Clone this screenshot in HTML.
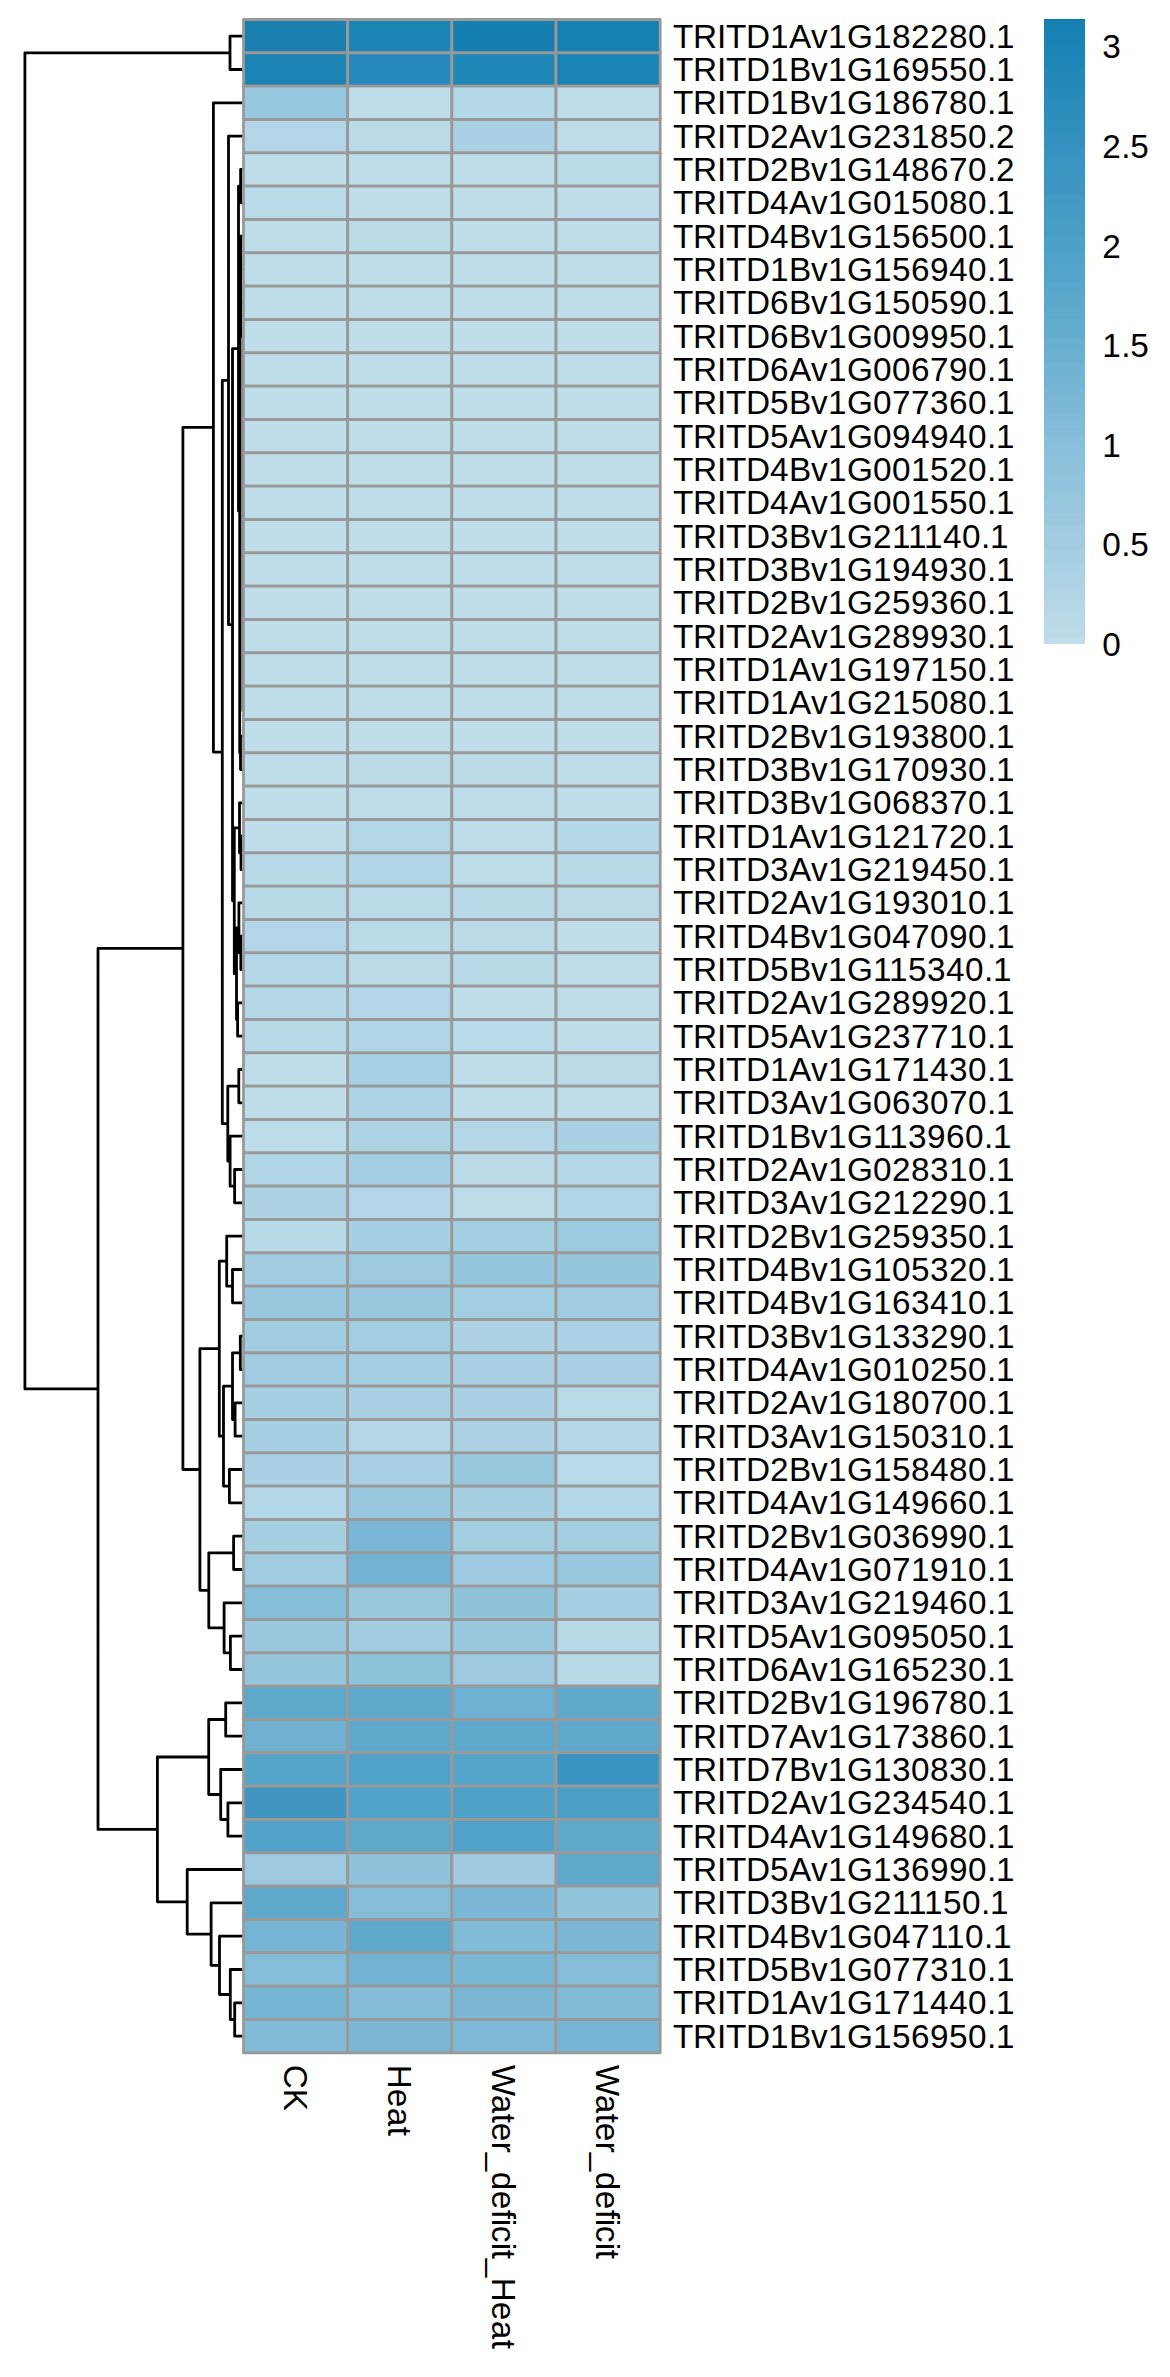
<!DOCTYPE html><html><head><meta charset="utf-8"><style>html,body{margin:0;padding:0;background:#fff;width:1170px;height:2377px;overflow:hidden}svg{display:block}text{font-family:"Liberation Sans",sans-serif;font-size:33.33px;fill:#000}</style></head><body>
<svg width="1170" height="2377" viewBox="0 0 1170 2377">
<rect width="1170" height="2377" fill="#fff"/>
<path d="M230.00 52.83L24.90 52.83L24.90 1388.93L98.00 1388.93M242.00 36.17L230.00 36.17L230.00 69.50L242.00 69.50M182.90 948.47L98.00 948.47L98.00 1829.39L157.40 1829.39M213.40 427.44L182.90 427.44L182.90 1469.50L199.90 1469.50M242.00 102.83L213.40 102.83L213.40 752.04L222.30 752.04M228.50 380.42L222.30 380.42L222.30 1123.67L227.80 1123.67M242.00 136.17L228.50 136.17L228.50 624.67L232.50 624.67M238.50 348.59L232.50 348.59L232.50 900.75L234.30 900.75M240.60 186.17L238.50 186.17L238.50 511.02L239.70 511.02M242.00 169.50L240.60 169.50L240.60 202.83L242.00 202.83M240.60 269.20L239.70 269.20L239.70 752.83L240.50 752.83M242.00 236.17L240.60 236.17L240.60 336.17L242.00 336.17M242.00 736.17L240.50 736.17L240.50 769.50L242.00 769.50M239.50 827.83L234.30 827.83L234.30 973.67L236.50 973.67M242.00 802.83L239.50 802.83L239.50 852.83L241.00 852.83M242.00 836.17L241.00 836.17L241.00 869.50L242.00 869.50M238.90 927.83L236.50 927.83L236.50 1019.50L237.60 1019.50M242.00 902.83L238.90 902.83L238.90 952.83L240.80 952.83M242.00 936.17L240.80 936.17L240.80 969.50L242.00 969.50M242.00 1002.83L237.60 1002.83L237.60 1036.17L242.00 1036.17M238.80 1086.17L227.80 1086.17L227.80 1161.17L230.10 1161.17M242.00 1069.50L238.80 1069.50L238.80 1102.83L242.00 1102.83M242.00 1136.17L230.10 1136.17L230.10 1186.17L234.60 1186.17M242.00 1169.50L234.60 1169.50L234.60 1202.83L242.00 1202.83M219.30 1348.67L199.90 1348.67L199.90 1590.33L208.80 1590.33M226.70 1261.17L219.30 1261.17L219.30 1436.17L223.50 1436.17M242.00 1236.17L226.70 1236.17L226.70 1286.17L232.50 1286.17M242.00 1269.50L232.50 1269.50L232.50 1302.83L242.00 1302.83M232.50 1386.17L223.50 1386.17L223.50 1486.17L229.40 1486.17M240.30 1352.83L232.50 1352.83L232.50 1419.50L235.10 1419.50M242.00 1336.17L240.30 1336.17L240.30 1369.50L242.00 1369.50M242.00 1402.83L235.10 1402.83L235.10 1436.17L242.00 1436.17M242.00 1469.50L229.40 1469.50L229.40 1502.83L242.00 1502.83M233.60 1552.83L208.80 1552.83L208.80 1627.83L224.10 1627.83M242.00 1536.17L233.60 1536.17L233.60 1569.50L242.00 1569.50M242.00 1602.83L224.10 1602.83L224.10 1652.83L230.40 1652.83M242.00 1636.17L230.40 1636.17L230.40 1669.50L242.00 1669.50M208.70 1757.00L157.40 1757.00L157.40 1901.79L187.20 1901.79M225.70 1719.50L208.70 1719.50L208.70 1794.50L220.70 1794.50M242.00 1702.83L225.70 1702.83L225.70 1736.16L242.00 1736.16M242.00 1769.50L220.70 1769.50L220.70 1819.50L227.90 1819.50M242.00 1802.83L227.90 1802.83L227.90 1836.16L242.00 1836.16M242.00 1869.50L187.20 1869.50L187.20 1934.08L211.10 1934.08M242.00 1902.83L211.10 1902.83L211.10 1965.33L219.50 1965.33M242.00 1936.16L219.50 1936.16L219.50 1994.50L230.30 1994.50M242.00 1969.50L230.30 1969.50L230.30 2019.50L234.70 2019.50M242.00 2002.83L234.70 2002.83L234.70 2036.16L242.00 2036.16M240.60 269.50L242.00 269.50M240.60 302.83L242.00 302.83M243.00 336.17L243.00 710.83" fill="none" stroke="#000" stroke-width="2.8" stroke-linejoin="round" stroke-linecap="round"/>
<g stroke="#999" stroke-width="2.8" stroke-linejoin="round"><rect x="243.50" y="19.50" width="104.175" height="33.333" fill="#1A80B0"/><rect x="347.68" y="19.50" width="104.175" height="33.333" fill="#1A84B4"/><rect x="451.85" y="19.50" width="104.175" height="33.333" fill="#157FB1"/><rect x="556.02" y="19.50" width="104.175" height="33.333" fill="#1580B2"/><rect x="243.50" y="52.83" width="104.175" height="33.333" fill="#1B84B5"/><rect x="347.68" y="52.83" width="104.175" height="33.333" fill="#2789BB"/><rect x="451.85" y="52.83" width="104.175" height="33.333" fill="#1E87B7"/><rect x="556.02" y="52.83" width="104.175" height="33.333" fill="#1983B5"/><rect x="243.50" y="86.17" width="104.175" height="33.333" fill="#97C8DF"/><rect x="347.68" y="86.17" width="104.175" height="33.333" fill="#C0DDEA"/><rect x="451.85" y="86.17" width="104.175" height="33.333" fill="#B5D8E8"/><rect x="556.02" y="86.17" width="104.175" height="33.333" fill="#BEDCE9"/><rect x="243.50" y="119.50" width="104.175" height="33.333" fill="#B2D6E7"/><rect x="347.68" y="119.50" width="104.175" height="33.333" fill="#BCDBE9"/><rect x="451.85" y="119.50" width="104.175" height="33.333" fill="#A9D1E3"/><rect x="556.02" y="119.50" width="104.175" height="33.333" fill="#BEDCE9"/><rect x="243.50" y="152.83" width="104.175" height="33.333" fill="#C0DDEA"/><rect x="347.68" y="152.83" width="104.175" height="33.333" fill="#BFDDEA"/><rect x="451.85" y="152.83" width="104.175" height="33.333" fill="#C0DEEA"/><rect x="556.02" y="152.83" width="104.175" height="33.333" fill="#BADBE8"/><rect x="243.50" y="186.17" width="104.175" height="33.333" fill="#B8DAE9"/><rect x="347.68" y="186.17" width="104.175" height="33.333" fill="#C0DDEA"/><rect x="451.85" y="186.17" width="104.175" height="33.333" fill="#C0DDEA"/><rect x="556.02" y="186.17" width="104.175" height="33.333" fill="#BFDDEA"/><rect x="243.50" y="219.50" width="104.175" height="33.333" fill="#C0DEEA"/><rect x="347.68" y="219.50" width="104.175" height="33.333" fill="#BCDBE9"/><rect x="451.85" y="219.50" width="104.175" height="33.333" fill="#C0DEEA"/><rect x="556.02" y="219.50" width="104.175" height="33.333" fill="#BFDDEA"/><rect x="243.50" y="252.83" width="104.175" height="33.333" fill="#C0DDEA"/><rect x="347.68" y="252.83" width="104.175" height="33.333" fill="#C0DDEA"/><rect x="451.85" y="252.83" width="104.175" height="33.333" fill="#C0DDEA"/><rect x="556.02" y="252.83" width="104.175" height="33.333" fill="#C0DDEA"/><rect x="243.50" y="286.17" width="104.175" height="33.333" fill="#C0DDEA"/><rect x="347.68" y="286.17" width="104.175" height="33.333" fill="#C0DDEA"/><rect x="451.85" y="286.17" width="104.175" height="33.333" fill="#C0DDEA"/><rect x="556.02" y="286.17" width="104.175" height="33.333" fill="#C0DDEA"/><rect x="243.50" y="319.50" width="104.175" height="33.333" fill="#C0DDEA"/><rect x="347.68" y="319.50" width="104.175" height="33.333" fill="#C0DDEA"/><rect x="451.85" y="319.50" width="104.175" height="33.333" fill="#C0DDEA"/><rect x="556.02" y="319.50" width="104.175" height="33.333" fill="#C0DDEA"/><rect x="243.50" y="352.83" width="104.175" height="33.333" fill="#C0DDEA"/><rect x="347.68" y="352.83" width="104.175" height="33.333" fill="#C0DDEA"/><rect x="451.85" y="352.83" width="104.175" height="33.333" fill="#C0DDEA"/><rect x="556.02" y="352.83" width="104.175" height="33.333" fill="#C0DDEA"/><rect x="243.50" y="386.17" width="104.175" height="33.333" fill="#C0DDEA"/><rect x="347.68" y="386.17" width="104.175" height="33.333" fill="#C0DDEA"/><rect x="451.85" y="386.17" width="104.175" height="33.333" fill="#C0DDEA"/><rect x="556.02" y="386.17" width="104.175" height="33.333" fill="#C0DDEA"/><rect x="243.50" y="419.50" width="104.175" height="33.333" fill="#C0DDEA"/><rect x="347.68" y="419.50" width="104.175" height="33.333" fill="#C0DDEA"/><rect x="451.85" y="419.50" width="104.175" height="33.333" fill="#C0DDEA"/><rect x="556.02" y="419.50" width="104.175" height="33.333" fill="#C0DDEA"/><rect x="243.50" y="452.83" width="104.175" height="33.333" fill="#C0DDEA"/><rect x="347.68" y="452.83" width="104.175" height="33.333" fill="#C0DDEA"/><rect x="451.85" y="452.83" width="104.175" height="33.333" fill="#C0DDEA"/><rect x="556.02" y="452.83" width="104.175" height="33.333" fill="#C0DDEA"/><rect x="243.50" y="486.17" width="104.175" height="33.333" fill="#C0DDEA"/><rect x="347.68" y="486.17" width="104.175" height="33.333" fill="#C0DDEA"/><rect x="451.85" y="486.17" width="104.175" height="33.333" fill="#C0DDEA"/><rect x="556.02" y="486.17" width="104.175" height="33.333" fill="#C0DDEA"/><rect x="243.50" y="519.50" width="104.175" height="33.333" fill="#C0DDEA"/><rect x="347.68" y="519.50" width="104.175" height="33.333" fill="#C0DDEA"/><rect x="451.85" y="519.50" width="104.175" height="33.333" fill="#C0DDEA"/><rect x="556.02" y="519.50" width="104.175" height="33.333" fill="#C0DDEA"/><rect x="243.50" y="552.83" width="104.175" height="33.333" fill="#C0DDEA"/><rect x="347.68" y="552.83" width="104.175" height="33.333" fill="#C0DDEA"/><rect x="451.85" y="552.83" width="104.175" height="33.333" fill="#C0DDEA"/><rect x="556.02" y="552.83" width="104.175" height="33.333" fill="#C0DDEA"/><rect x="243.50" y="586.17" width="104.175" height="33.333" fill="#C0DDEA"/><rect x="347.68" y="586.17" width="104.175" height="33.333" fill="#C0DDEA"/><rect x="451.85" y="586.17" width="104.175" height="33.333" fill="#C0DDEA"/><rect x="556.02" y="586.17" width="104.175" height="33.333" fill="#C0DDEA"/><rect x="243.50" y="619.50" width="104.175" height="33.333" fill="#C0DDEA"/><rect x="347.68" y="619.50" width="104.175" height="33.333" fill="#C0DDEA"/><rect x="451.85" y="619.50" width="104.175" height="33.333" fill="#C0DDEA"/><rect x="556.02" y="619.50" width="104.175" height="33.333" fill="#C0DDEA"/><rect x="243.50" y="652.83" width="104.175" height="33.333" fill="#C0DDEA"/><rect x="347.68" y="652.83" width="104.175" height="33.333" fill="#C0DDEA"/><rect x="451.85" y="652.83" width="104.175" height="33.333" fill="#C0DDEA"/><rect x="556.02" y="652.83" width="104.175" height="33.333" fill="#C0DDEA"/><rect x="243.50" y="686.17" width="104.175" height="33.333" fill="#C0DDEA"/><rect x="347.68" y="686.17" width="104.175" height="33.333" fill="#C0DDEA"/><rect x="451.85" y="686.17" width="104.175" height="33.333" fill="#C0DDEA"/><rect x="556.02" y="686.17" width="104.175" height="33.333" fill="#C0DDEA"/><rect x="243.50" y="719.50" width="104.175" height="33.333" fill="#C0DDEA"/><rect x="347.68" y="719.50" width="104.175" height="33.333" fill="#C0DDEA"/><rect x="451.85" y="719.50" width="104.175" height="33.333" fill="#C0DDEA"/><rect x="556.02" y="719.50" width="104.175" height="33.333" fill="#C0DDEA"/><rect x="243.50" y="752.83" width="104.175" height="33.333" fill="#C0DDEA"/><rect x="347.68" y="752.83" width="104.175" height="33.333" fill="#BBDBE8"/><rect x="451.85" y="752.83" width="104.175" height="33.333" fill="#BBDBE8"/><rect x="556.02" y="752.83" width="104.175" height="33.333" fill="#C0DDEA"/><rect x="243.50" y="786.17" width="104.175" height="33.333" fill="#C0DDEA"/><rect x="347.68" y="786.17" width="104.175" height="33.333" fill="#BEDCE9"/><rect x="451.85" y="786.17" width="104.175" height="33.333" fill="#BEDCE9"/><rect x="556.02" y="786.17" width="104.175" height="33.333" fill="#BFDDEA"/><rect x="243.50" y="819.50" width="104.175" height="33.333" fill="#BFDDEA"/><rect x="347.68" y="819.50" width="104.175" height="33.333" fill="#B3D6E7"/><rect x="451.85" y="819.50" width="104.175" height="33.333" fill="#BEDCE9"/><rect x="556.02" y="819.50" width="104.175" height="33.333" fill="#B5D8E8"/><rect x="243.50" y="852.83" width="104.175" height="33.333" fill="#B8D9E8"/><rect x="347.68" y="852.83" width="104.175" height="33.333" fill="#B0D5E6"/><rect x="451.85" y="852.83" width="104.175" height="33.333" fill="#BDDCE9"/><rect x="556.02" y="852.83" width="104.175" height="33.333" fill="#B8D9E8"/><rect x="243.50" y="886.17" width="104.175" height="33.333" fill="#B8D9E8"/><rect x="347.68" y="886.17" width="104.175" height="33.333" fill="#B9DAE8"/><rect x="451.85" y="886.17" width="104.175" height="33.333" fill="#B8D9E8"/><rect x="556.02" y="886.17" width="104.175" height="33.333" fill="#BCDBE9"/><rect x="243.50" y="919.50" width="104.175" height="33.333" fill="#B2D6E7"/><rect x="347.68" y="919.50" width="104.175" height="33.333" fill="#B9DAE8"/><rect x="451.85" y="919.50" width="104.175" height="33.333" fill="#BCDBE9"/><rect x="556.02" y="919.50" width="104.175" height="33.333" fill="#C0DDEA"/><rect x="243.50" y="952.83" width="104.175" height="33.333" fill="#B5D8E8"/><rect x="347.68" y="952.83" width="104.175" height="33.333" fill="#BADAE8"/><rect x="451.85" y="952.83" width="104.175" height="33.333" fill="#B8D9E8"/><rect x="556.02" y="952.83" width="104.175" height="33.333" fill="#C0DDEA"/><rect x="243.50" y="986.17" width="104.175" height="33.333" fill="#B5D8E8"/><rect x="347.68" y="986.17" width="104.175" height="33.333" fill="#B2D6E7"/><rect x="451.85" y="986.17" width="104.175" height="33.333" fill="#C0DDEA"/><rect x="556.02" y="986.17" width="104.175" height="33.333" fill="#BEDCE9"/><rect x="243.50" y="1019.50" width="104.175" height="33.333" fill="#B8D9E8"/><rect x="347.68" y="1019.50" width="104.175" height="33.333" fill="#B0D5E6"/><rect x="451.85" y="1019.50" width="104.175" height="33.333" fill="#B9DAE8"/><rect x="556.02" y="1019.50" width="104.175" height="33.333" fill="#C0DDEA"/><rect x="243.50" y="1052.83" width="104.175" height="33.333" fill="#C0DDEA"/><rect x="347.68" y="1052.83" width="104.175" height="33.333" fill="#A8D0E3"/><rect x="451.85" y="1052.83" width="104.175" height="33.333" fill="#C0DDEA"/><rect x="556.02" y="1052.83" width="104.175" height="33.333" fill="#BADAE8"/><rect x="243.50" y="1086.17" width="104.175" height="33.333" fill="#C0DDEA"/><rect x="347.68" y="1086.17" width="104.175" height="33.333" fill="#ADD3E5"/><rect x="451.85" y="1086.17" width="104.175" height="33.333" fill="#C0DDEA"/><rect x="556.02" y="1086.17" width="104.175" height="33.333" fill="#C0DDEA"/><rect x="243.50" y="1119.50" width="104.175" height="33.333" fill="#BDDCE9"/><rect x="347.68" y="1119.50" width="104.175" height="33.333" fill="#ADD3E5"/><rect x="451.85" y="1119.50" width="104.175" height="33.333" fill="#B4D7E7"/><rect x="556.02" y="1119.50" width="104.175" height="33.333" fill="#A9D1E3"/><rect x="243.50" y="1152.83" width="104.175" height="33.333" fill="#B0D5E6"/><rect x="347.68" y="1152.83" width="104.175" height="33.333" fill="#A4CEE2"/><rect x="451.85" y="1152.83" width="104.175" height="33.333" fill="#BADAE8"/><rect x="556.02" y="1152.83" width="104.175" height="33.333" fill="#B4D7E7"/><rect x="243.50" y="1186.17" width="104.175" height="33.333" fill="#ACD2E4"/><rect x="347.68" y="1186.17" width="104.175" height="33.333" fill="#B2D6E7"/><rect x="451.85" y="1186.17" width="104.175" height="33.333" fill="#BDDCE9"/><rect x="556.02" y="1186.17" width="104.175" height="33.333" fill="#B0D5E6"/><rect x="243.50" y="1219.50" width="104.175" height="33.333" fill="#B7D9E8"/><rect x="347.68" y="1219.50" width="104.175" height="33.333" fill="#A6CFE2"/><rect x="451.85" y="1219.50" width="104.175" height="33.333" fill="#A4CEE1"/><rect x="556.02" y="1219.50" width="104.175" height="33.333" fill="#9BC9DF"/><rect x="243.50" y="1252.83" width="104.175" height="33.333" fill="#A2CCE0"/><rect x="347.68" y="1252.83" width="104.175" height="33.333" fill="#9CC9DF"/><rect x="451.85" y="1252.83" width="104.175" height="33.333" fill="#96C6DE"/><rect x="556.02" y="1252.83" width="104.175" height="33.333" fill="#96C6DE"/><rect x="243.50" y="1286.17" width="104.175" height="33.333" fill="#99C8DE"/><rect x="347.68" y="1286.17" width="104.175" height="33.333" fill="#99C8DE"/><rect x="451.85" y="1286.17" width="104.175" height="33.333" fill="#A3CDE1"/><rect x="556.02" y="1286.17" width="104.175" height="33.333" fill="#A0CBE0"/><rect x="243.50" y="1319.50" width="104.175" height="33.333" fill="#A2CCE0"/><rect x="347.68" y="1319.50" width="104.175" height="33.333" fill="#A3CDE1"/><rect x="451.85" y="1319.50" width="104.175" height="33.333" fill="#ACD2E4"/><rect x="556.02" y="1319.50" width="104.175" height="33.333" fill="#ABD1E4"/><rect x="243.50" y="1352.83" width="104.175" height="33.333" fill="#A0CBE0"/><rect x="347.68" y="1352.83" width="104.175" height="33.333" fill="#A6CFE2"/><rect x="451.85" y="1352.83" width="104.175" height="33.333" fill="#AAD1E3"/><rect x="556.02" y="1352.83" width="104.175" height="33.333" fill="#AAD1E3"/><rect x="243.50" y="1386.17" width="104.175" height="33.333" fill="#A6CFE2"/><rect x="347.68" y="1386.17" width="104.175" height="33.333" fill="#AAD1E3"/><rect x="451.85" y="1386.17" width="104.175" height="33.333" fill="#AAD1E3"/><rect x="556.02" y="1386.17" width="104.175" height="33.333" fill="#B9DAE8"/><rect x="243.50" y="1419.50" width="104.175" height="33.333" fill="#A6CFE2"/><rect x="347.68" y="1419.50" width="104.175" height="33.333" fill="#B4D7E7"/><rect x="451.85" y="1419.50" width="104.175" height="33.333" fill="#ABD1E3"/><rect x="556.02" y="1419.50" width="104.175" height="33.333" fill="#B4D7E7"/><rect x="243.50" y="1452.83" width="104.175" height="33.333" fill="#AAD0E3"/><rect x="347.68" y="1452.83" width="104.175" height="33.333" fill="#A9D0E3"/><rect x="451.85" y="1452.83" width="104.175" height="33.333" fill="#98C7DE"/><rect x="556.02" y="1452.83" width="104.175" height="33.333" fill="#B9DAE8"/><rect x="243.50" y="1486.17" width="104.175" height="33.333" fill="#B4D7E7"/><rect x="347.68" y="1486.17" width="104.175" height="33.333" fill="#99C7DE"/><rect x="451.85" y="1486.17" width="104.175" height="33.333" fill="#A7CFE2"/><rect x="556.02" y="1486.17" width="104.175" height="33.333" fill="#B4D7E7"/><rect x="243.50" y="1519.50" width="104.175" height="33.333" fill="#A7CFE2"/><rect x="347.68" y="1519.50" width="104.175" height="33.333" fill="#7AB7D6"/><rect x="451.85" y="1519.50" width="104.175" height="33.333" fill="#A5CEE1"/><rect x="556.02" y="1519.50" width="104.175" height="33.333" fill="#A5CEE1"/><rect x="243.50" y="1552.83" width="104.175" height="33.333" fill="#A1CCE0"/><rect x="347.68" y="1552.83" width="104.175" height="33.333" fill="#73B3D3"/><rect x="451.85" y="1552.83" width="104.175" height="33.333" fill="#9DCAE0"/><rect x="556.02" y="1552.83" width="104.175" height="33.333" fill="#98C7DE"/><rect x="243.50" y="1586.17" width="104.175" height="33.333" fill="#83BDD8"/><rect x="347.68" y="1586.17" width="104.175" height="33.333" fill="#99C7DE"/><rect x="451.85" y="1586.17" width="104.175" height="33.333" fill="#8FC2DB"/><rect x="556.02" y="1586.17" width="104.175" height="33.333" fill="#A5CEE1"/><rect x="243.50" y="1619.50" width="104.175" height="33.333" fill="#98C7DE"/><rect x="347.68" y="1619.50" width="104.175" height="33.333" fill="#A2CCE0"/><rect x="451.85" y="1619.50" width="104.175" height="33.333" fill="#98C7DE"/><rect x="556.02" y="1619.50" width="104.175" height="33.333" fill="#B8D9E8"/><rect x="243.50" y="1652.83" width="104.175" height="33.333" fill="#96C6DD"/><rect x="347.68" y="1652.83" width="104.175" height="33.333" fill="#8DC2DB"/><rect x="451.85" y="1652.83" width="104.175" height="33.333" fill="#9CC9DF"/><rect x="556.02" y="1652.83" width="104.175" height="33.333" fill="#B8D9E8"/><rect x="243.50" y="1686.16" width="104.175" height="33.333" fill="#5EA8CC"/><rect x="347.68" y="1686.16" width="104.175" height="33.333" fill="#5EA8CC"/><rect x="451.85" y="1686.16" width="104.175" height="33.333" fill="#6EB0D1"/><rect x="556.02" y="1686.16" width="104.175" height="33.333" fill="#5EA8CC"/><rect x="243.50" y="1719.50" width="104.175" height="33.333" fill="#70B1D1"/><rect x="347.68" y="1719.50" width="104.175" height="33.333" fill="#5EA8CC"/><rect x="451.85" y="1719.50" width="104.175" height="33.333" fill="#5EA8CC"/><rect x="556.02" y="1719.50" width="104.175" height="33.333" fill="#5EA8CC"/><rect x="243.50" y="1752.83" width="104.175" height="33.333" fill="#55A4CA"/><rect x="347.68" y="1752.83" width="104.175" height="33.333" fill="#51A2C9"/><rect x="451.85" y="1752.83" width="104.175" height="33.333" fill="#55A4CA"/><rect x="556.02" y="1752.83" width="104.175" height="33.333" fill="#3994C1"/><rect x="243.50" y="1786.16" width="104.175" height="33.333" fill="#4096C0"/><rect x="347.68" y="1786.16" width="104.175" height="33.333" fill="#52A3C9"/><rect x="451.85" y="1786.16" width="104.175" height="33.333" fill="#4FA0C7"/><rect x="556.02" y="1786.16" width="104.175" height="33.333" fill="#4B9EC6"/><rect x="243.50" y="1819.50" width="104.175" height="33.333" fill="#52A2C9"/><rect x="347.68" y="1819.50" width="104.175" height="33.333" fill="#5EA8CB"/><rect x="451.85" y="1819.50" width="104.175" height="33.333" fill="#51A2C9"/><rect x="556.02" y="1819.50" width="104.175" height="33.333" fill="#5DA8CB"/><rect x="243.50" y="1852.83" width="104.175" height="33.333" fill="#9CC9DF"/><rect x="347.68" y="1852.83" width="104.175" height="33.333" fill="#90C3DB"/><rect x="451.85" y="1852.83" width="104.175" height="33.333" fill="#9FCADF"/><rect x="556.02" y="1852.83" width="104.175" height="33.333" fill="#5DA8CB"/><rect x="243.50" y="1886.16" width="104.175" height="33.333" fill="#5DA8CB"/><rect x="347.68" y="1886.16" width="104.175" height="33.333" fill="#85BDD8"/><rect x="451.85" y="1886.16" width="104.175" height="33.333" fill="#7CB8D6"/><rect x="556.02" y="1886.16" width="104.175" height="33.333" fill="#92C4DC"/><rect x="243.50" y="1919.50" width="104.175" height="33.333" fill="#75B4D3"/><rect x="347.68" y="1919.50" width="104.175" height="33.333" fill="#5DA8CB"/><rect x="451.85" y="1919.50" width="104.175" height="33.333" fill="#80BBD7"/><rect x="556.02" y="1919.50" width="104.175" height="33.333" fill="#7CB8D6"/><rect x="243.50" y="1952.83" width="104.175" height="33.333" fill="#84BDD8"/><rect x="347.68" y="1952.83" width="104.175" height="33.333" fill="#73B3D3"/><rect x="451.85" y="1952.83" width="104.175" height="33.333" fill="#7AB7D5"/><rect x="556.02" y="1952.83" width="104.175" height="33.333" fill="#85BDD8"/><rect x="243.50" y="1986.16" width="104.175" height="33.333" fill="#77B5D4"/><rect x="347.68" y="1986.16" width="104.175" height="33.333" fill="#82BCD8"/><rect x="451.85" y="1986.16" width="104.175" height="33.333" fill="#7CB8D6"/><rect x="556.02" y="1986.16" width="104.175" height="33.333" fill="#80BAD7"/><rect x="243.50" y="2019.50" width="104.175" height="33.333" fill="#80BAD7"/><rect x="347.68" y="2019.50" width="104.175" height="33.333" fill="#7BB7D5"/><rect x="451.85" y="2019.50" width="104.175" height="33.333" fill="#7DB8D6"/><rect x="556.02" y="2019.50" width="104.175" height="33.333" fill="#77B5D4"/></g>
<text x="673.00 693.00 717.00 726.00 746.00 770.00 789.00 811.00 828.00 847.00 873.00 892.00 911.00 930.00 949.00 968.00 987.00 996.00" y="47.80">TRITD1Av1G182280.1</text><text x="673.00 693.00 717.00 726.00 746.00 770.00 789.00 811.00 828.00 847.00 873.00 892.00 911.00 930.00 949.00 968.00 987.00 996.00" y="81.13">TRITD1Bv1G169550.1</text><text x="673.00 693.00 717.00 726.00 746.00 770.00 789.00 811.00 828.00 847.00 873.00 892.00 911.00 930.00 949.00 968.00 987.00 996.00" y="114.47">TRITD1Bv1G186780.1</text><text x="673.00 693.00 717.00 726.00 746.00 770.00 789.00 811.00 828.00 847.00 873.00 892.00 911.00 930.00 949.00 968.00 987.00 996.00" y="147.80">TRITD2Av1G231850.2</text><text x="673.00 693.00 717.00 726.00 746.00 770.00 789.00 811.00 828.00 847.00 873.00 892.00 911.00 930.00 949.00 968.00 987.00 996.00" y="181.13">TRITD2Bv1G148670.2</text><text x="673.00 693.00 717.00 726.00 746.00 770.00 789.00 811.00 828.00 847.00 873.00 892.00 911.00 930.00 949.00 968.00 987.00 996.00" y="214.47">TRITD4Av1G015080.1</text><text x="673.00 693.00 717.00 726.00 746.00 770.00 789.00 811.00 828.00 847.00 873.00 892.00 911.00 930.00 949.00 968.00 987.00 996.00" y="247.80">TRITD4Bv1G156500.1</text><text x="673.00 693.00 717.00 726.00 746.00 770.00 789.00 811.00 828.00 847.00 873.00 892.00 911.00 930.00 949.00 968.00 987.00 996.00" y="281.13">TRITD1Bv1G156940.1</text><text x="673.00 693.00 717.00 726.00 746.00 770.00 789.00 811.00 828.00 847.00 873.00 892.00 911.00 930.00 949.00 968.00 987.00 996.00" y="314.47">TRITD6Bv1G150590.1</text><text x="673.00 693.00 717.00 726.00 746.00 770.00 789.00 811.00 828.00 847.00 873.00 892.00 911.00 930.00 949.00 968.00 987.00 996.00" y="347.80">TRITD6Bv1G009950.1</text><text x="673.00 693.00 717.00 726.00 746.00 770.00 789.00 811.00 828.00 847.00 873.00 892.00 911.00 930.00 949.00 968.00 987.00 996.00" y="381.13">TRITD6Av1G006790.1</text><text x="673.00 693.00 717.00 726.00 746.00 770.00 789.00 811.00 828.00 847.00 873.00 892.00 911.00 930.00 949.00 968.00 987.00 996.00" y="414.47">TRITD5Bv1G077360.1</text><text x="673.00 693.00 717.00 726.00 746.00 770.00 789.00 811.00 828.00 847.00 873.00 892.00 911.00 930.00 949.00 968.00 987.00 996.00" y="447.80">TRITD5Av1G094940.1</text><text x="673.00 693.00 717.00 726.00 746.00 770.00 789.00 811.00 828.00 847.00 873.00 892.00 911.00 930.00 949.00 968.00 987.00 996.00" y="481.13">TRITD4Bv1G001520.1</text><text x="673.00 693.00 717.00 726.00 746.00 770.00 789.00 811.00 828.00 847.00 873.00 892.00 911.00 930.00 949.00 968.00 987.00 996.00" y="514.47">TRITD4Av1G001550.1</text><text x="673.00 693.00 717.00 726.00 746.00 770.00 789.00 811.00 828.00 847.00 873.00 892.00 908.00 924.00 943.00 962.00 981.00 990.00" y="547.80">TRITD3Bv1G211140.1</text><text x="673.00 693.00 717.00 726.00 746.00 770.00 789.00 811.00 828.00 847.00 873.00 892.00 911.00 930.00 949.00 968.00 987.00 996.00" y="581.13">TRITD3Bv1G194930.1</text><text x="673.00 693.00 717.00 726.00 746.00 770.00 789.00 811.00 828.00 847.00 873.00 892.00 911.00 930.00 949.00 968.00 987.00 996.00" y="614.47">TRITD2Bv1G259360.1</text><text x="673.00 693.00 717.00 726.00 746.00 770.00 789.00 811.00 828.00 847.00 873.00 892.00 911.00 930.00 949.00 968.00 987.00 996.00" y="647.80">TRITD2Av1G289930.1</text><text x="673.00 693.00 717.00 726.00 746.00 770.00 789.00 811.00 828.00 847.00 873.00 892.00 911.00 930.00 949.00 968.00 987.00 996.00" y="681.13">TRITD1Av1G197150.1</text><text x="673.00 693.00 717.00 726.00 746.00 770.00 789.00 811.00 828.00 847.00 873.00 892.00 911.00 930.00 949.00 968.00 987.00 996.00" y="714.47">TRITD1Av1G215080.1</text><text x="673.00 693.00 717.00 726.00 746.00 770.00 789.00 811.00 828.00 847.00 873.00 892.00 911.00 930.00 949.00 968.00 987.00 996.00" y="747.80">TRITD2Bv1G193800.1</text><text x="673.00 693.00 717.00 726.00 746.00 770.00 789.00 811.00 828.00 847.00 873.00 892.00 911.00 930.00 949.00 968.00 987.00 996.00" y="781.13">TRITD3Bv1G170930.1</text><text x="673.00 693.00 717.00 726.00 746.00 770.00 789.00 811.00 828.00 847.00 873.00 892.00 911.00 930.00 949.00 968.00 987.00 996.00" y="814.47">TRITD3Bv1G068370.1</text><text x="673.00 693.00 717.00 726.00 746.00 770.00 789.00 811.00 828.00 847.00 873.00 892.00 911.00 930.00 949.00 968.00 987.00 996.00" y="847.80">TRITD1Av1G121720.1</text><text x="673.00 693.00 717.00 726.00 746.00 770.00 789.00 811.00 828.00 847.00 873.00 892.00 911.00 930.00 949.00 968.00 987.00 996.00" y="881.13">TRITD3Av1G219450.1</text><text x="673.00 693.00 717.00 726.00 746.00 770.00 789.00 811.00 828.00 847.00 873.00 892.00 911.00 930.00 949.00 968.00 987.00 996.00" y="914.47">TRITD2Av1G193010.1</text><text x="673.00 693.00 717.00 726.00 746.00 770.00 789.00 811.00 828.00 847.00 873.00 892.00 911.00 930.00 949.00 968.00 987.00 996.00" y="947.80">TRITD4Bv1G047090.1</text><text x="673.00 693.00 717.00 726.00 746.00 770.00 789.00 811.00 828.00 847.00 873.00 889.00 908.00 927.00 946.00 965.00 984.00 993.00" y="981.13">TRITD5Bv1G115340.1</text><text x="673.00 693.00 717.00 726.00 746.00 770.00 789.00 811.00 828.00 847.00 873.00 892.00 911.00 930.00 949.00 968.00 987.00 996.00" y="1014.47">TRITD2Av1G289920.1</text><text x="673.00 693.00 717.00 726.00 746.00 770.00 789.00 811.00 828.00 847.00 873.00 892.00 911.00 930.00 949.00 968.00 987.00 996.00" y="1047.80">TRITD5Av1G237710.1</text><text x="673.00 693.00 717.00 726.00 746.00 770.00 789.00 811.00 828.00 847.00 873.00 892.00 911.00 930.00 949.00 968.00 987.00 996.00" y="1081.13">TRITD1Av1G171430.1</text><text x="673.00 693.00 717.00 726.00 746.00 770.00 789.00 811.00 828.00 847.00 873.00 892.00 911.00 930.00 949.00 968.00 987.00 996.00" y="1114.47">TRITD3Av1G063070.1</text><text x="673.00 693.00 717.00 726.00 746.00 770.00 789.00 811.00 828.00 847.00 873.00 889.00 908.00 927.00 946.00 965.00 984.00 993.00" y="1147.80">TRITD1Bv1G113960.1</text><text x="673.00 693.00 717.00 726.00 746.00 770.00 789.00 811.00 828.00 847.00 873.00 892.00 911.00 930.00 949.00 968.00 987.00 996.00" y="1181.13">TRITD2Av1G028310.1</text><text x="673.00 693.00 717.00 726.00 746.00 770.00 789.00 811.00 828.00 847.00 873.00 892.00 911.00 930.00 949.00 968.00 987.00 996.00" y="1214.47">TRITD3Av1G212290.1</text><text x="673.00 693.00 717.00 726.00 746.00 770.00 789.00 811.00 828.00 847.00 873.00 892.00 911.00 930.00 949.00 968.00 987.00 996.00" y="1247.80">TRITD2Bv1G259350.1</text><text x="673.00 693.00 717.00 726.00 746.00 770.00 789.00 811.00 828.00 847.00 873.00 892.00 911.00 930.00 949.00 968.00 987.00 996.00" y="1281.13">TRITD4Bv1G105320.1</text><text x="673.00 693.00 717.00 726.00 746.00 770.00 789.00 811.00 828.00 847.00 873.00 892.00 911.00 930.00 949.00 968.00 987.00 996.00" y="1314.47">TRITD4Bv1G163410.1</text><text x="673.00 693.00 717.00 726.00 746.00 770.00 789.00 811.00 828.00 847.00 873.00 892.00 911.00 930.00 949.00 968.00 987.00 996.00" y="1347.80">TRITD3Bv1G133290.1</text><text x="673.00 693.00 717.00 726.00 746.00 770.00 789.00 811.00 828.00 847.00 873.00 892.00 911.00 930.00 949.00 968.00 987.00 996.00" y="1381.13">TRITD4Av1G010250.1</text><text x="673.00 693.00 717.00 726.00 746.00 770.00 789.00 811.00 828.00 847.00 873.00 892.00 911.00 930.00 949.00 968.00 987.00 996.00" y="1414.47">TRITD2Av1G180700.1</text><text x="673.00 693.00 717.00 726.00 746.00 770.00 789.00 811.00 828.00 847.00 873.00 892.00 911.00 930.00 949.00 968.00 987.00 996.00" y="1447.80">TRITD3Av1G150310.1</text><text x="673.00 693.00 717.00 726.00 746.00 770.00 789.00 811.00 828.00 847.00 873.00 892.00 911.00 930.00 949.00 968.00 987.00 996.00" y="1481.13">TRITD2Bv1G158480.1</text><text x="673.00 693.00 717.00 726.00 746.00 770.00 789.00 811.00 828.00 847.00 873.00 892.00 911.00 930.00 949.00 968.00 987.00 996.00" y="1514.47">TRITD4Av1G149660.1</text><text x="673.00 693.00 717.00 726.00 746.00 770.00 789.00 811.00 828.00 847.00 873.00 892.00 911.00 930.00 949.00 968.00 987.00 996.00" y="1547.80">TRITD2Bv1G036990.1</text><text x="673.00 693.00 717.00 726.00 746.00 770.00 789.00 811.00 828.00 847.00 873.00 892.00 911.00 930.00 949.00 968.00 987.00 996.00" y="1581.13">TRITD4Av1G071910.1</text><text x="673.00 693.00 717.00 726.00 746.00 770.00 789.00 811.00 828.00 847.00 873.00 892.00 911.00 930.00 949.00 968.00 987.00 996.00" y="1614.47">TRITD3Av1G219460.1</text><text x="673.00 693.00 717.00 726.00 746.00 770.00 789.00 811.00 828.00 847.00 873.00 892.00 911.00 930.00 949.00 968.00 987.00 996.00" y="1647.80">TRITD5Av1G095050.1</text><text x="673.00 693.00 717.00 726.00 746.00 770.00 789.00 811.00 828.00 847.00 873.00 892.00 911.00 930.00 949.00 968.00 987.00 996.00" y="1681.13">TRITD6Av1G165230.1</text><text x="673.00 693.00 717.00 726.00 746.00 770.00 789.00 811.00 828.00 847.00 873.00 892.00 911.00 930.00 949.00 968.00 987.00 996.00" y="1714.46">TRITD2Bv1G196780.1</text><text x="673.00 693.00 717.00 726.00 746.00 770.00 789.00 811.00 828.00 847.00 873.00 892.00 911.00 930.00 949.00 968.00 987.00 996.00" y="1747.80">TRITD7Av1G173860.1</text><text x="673.00 693.00 717.00 726.00 746.00 770.00 789.00 811.00 828.00 847.00 873.00 892.00 911.00 930.00 949.00 968.00 987.00 996.00" y="1781.13">TRITD7Bv1G130830.1</text><text x="673.00 693.00 717.00 726.00 746.00 770.00 789.00 811.00 828.00 847.00 873.00 892.00 911.00 930.00 949.00 968.00 987.00 996.00" y="1814.46">TRITD2Av1G234540.1</text><text x="673.00 693.00 717.00 726.00 746.00 770.00 789.00 811.00 828.00 847.00 873.00 892.00 911.00 930.00 949.00 968.00 987.00 996.00" y="1847.80">TRITD4Av1G149680.1</text><text x="673.00 693.00 717.00 726.00 746.00 770.00 789.00 811.00 828.00 847.00 873.00 892.00 911.00 930.00 949.00 968.00 987.00 996.00" y="1881.13">TRITD5Av1G136990.1</text><text x="673.00 693.00 717.00 726.00 746.00 770.00 789.00 811.00 828.00 847.00 873.00 892.00 908.00 924.00 943.00 962.00 981.00 990.00" y="1914.46">TRITD3Bv1G211150.1</text><text x="673.00 693.00 717.00 726.00 746.00 770.00 789.00 811.00 828.00 847.00 873.00 892.00 911.00 930.00 946.00 965.00 984.00 993.00" y="1947.80">TRITD4Bv1G047110.1</text><text x="673.00 693.00 717.00 726.00 746.00 770.00 789.00 811.00 828.00 847.00 873.00 892.00 911.00 930.00 949.00 968.00 987.00 996.00" y="1981.13">TRITD5Bv1G077310.1</text><text x="673.00 693.00 717.00 726.00 746.00 770.00 789.00 811.00 828.00 847.00 873.00 892.00 911.00 930.00 949.00 968.00 987.00 996.00" y="2014.46">TRITD1Av1G171440.1</text><text x="673.00 693.00 717.00 726.00 746.00 770.00 789.00 811.00 828.00 847.00 873.00 892.00 911.00 930.00 949.00 968.00 987.00 996.00" y="2047.80">TRITD1Bv1G156950.1</text>
<text transform="translate(284.14 2064.8) rotate(90)" x="0.00 24.00">CK</text>
<text transform="translate(388.31 2064.8) rotate(90)" x="0.00 24.00 43.00 62.00">Heat</text>
<text transform="translate(492.49 2064.8) rotate(90)" x="0.00 30.00 49.00 58.00 77.00 88.00 107.00 126.00 145.00 154.00 161.00 178.00 185.00 194.00 213.00 237.00 256.00 275.00">Water_deficit_Heat</text>
<text transform="translate(595.59 2064.8) rotate(90)" x="0.00 30.00 49.00 58.00 77.00 88.00 107.00 126.00 145.00 154.00 161.00 178.00 185.00">Water_deficit</text>
<g shape-rendering="crispEdges"><rect x="1044.1" y="637.532" width="40.8" height="6.288" fill="#BEDCEA"/><rect x="1044.1" y="631.284" width="40.8" height="6.288" fill="#BCDBE9"/><rect x="1044.1" y="625.036" width="40.8" height="6.288" fill="#BBDAE9"/><rect x="1044.1" y="618.788" width="40.8" height="6.288" fill="#B9D9E8"/><rect x="1044.1" y="612.540" width="40.8" height="6.288" fill="#B7D8E7"/><rect x="1044.1" y="606.292" width="40.8" height="6.288" fill="#B5D7E7"/><rect x="1044.1" y="600.044" width="40.8" height="6.288" fill="#B4D6E6"/><rect x="1044.1" y="593.796" width="40.8" height="6.288" fill="#B2D5E6"/><rect x="1044.1" y="587.548" width="40.8" height="6.288" fill="#B0D4E5"/><rect x="1044.1" y="581.300" width="40.8" height="6.288" fill="#AED3E5"/><rect x="1044.1" y="575.052" width="40.8" height="6.288" fill="#ADD2E4"/><rect x="1044.1" y="568.804" width="40.8" height="6.288" fill="#ABD1E4"/><rect x="1044.1" y="562.556" width="40.8" height="6.288" fill="#A9D0E3"/><rect x="1044.1" y="556.308" width="40.8" height="6.288" fill="#A7CFE2"/><rect x="1044.1" y="550.060" width="40.8" height="6.288" fill="#A6CEE2"/><rect x="1044.1" y="543.812" width="40.8" height="6.288" fill="#A4CCE1"/><rect x="1044.1" y="537.564" width="40.8" height="6.288" fill="#A2CCE1"/><rect x="1044.1" y="531.316" width="40.8" height="6.288" fill="#A0CBE0"/><rect x="1044.1" y="525.068" width="40.8" height="6.288" fill="#9FCAE0"/><rect x="1044.1" y="518.820" width="40.8" height="6.288" fill="#9DC9DF"/><rect x="1044.1" y="512.572" width="40.8" height="6.288" fill="#9BC8DF"/><rect x="1044.1" y="506.324" width="40.8" height="6.288" fill="#9AC7DF"/><rect x="1044.1" y="500.076" width="40.8" height="6.288" fill="#98C7DE"/><rect x="1044.1" y="493.828" width="40.8" height="6.288" fill="#96C6DE"/><rect x="1044.1" y="487.580" width="40.8" height="6.288" fill="#94C5DD"/><rect x="1044.1" y="481.332" width="40.8" height="6.288" fill="#93C4DD"/><rect x="1044.1" y="475.084" width="40.8" height="6.288" fill="#91C3DC"/><rect x="1044.1" y="468.836" width="40.8" height="6.288" fill="#8FC3DC"/><rect x="1044.1" y="462.588" width="40.8" height="6.288" fill="#8EC2DB"/><rect x="1044.1" y="456.340" width="40.8" height="6.288" fill="#8CC1DB"/><rect x="1044.1" y="450.092" width="40.8" height="6.288" fill="#8AC0DB"/><rect x="1044.1" y="443.844" width="40.8" height="6.288" fill="#89BFDA"/><rect x="1044.1" y="437.596" width="40.8" height="6.288" fill="#87BEDA"/><rect x="1044.1" y="431.348" width="40.8" height="6.288" fill="#85BDD9"/><rect x="1044.1" y="425.100" width="40.8" height="6.288" fill="#83BCD8"/><rect x="1044.1" y="418.852" width="40.8" height="6.288" fill="#81BBD7"/><rect x="1044.1" y="412.604" width="40.8" height="6.288" fill="#7FBAD7"/><rect x="1044.1" y="406.356" width="40.8" height="6.288" fill="#7DB9D6"/><rect x="1044.1" y="400.108" width="40.8" height="6.288" fill="#7BB8D5"/><rect x="1044.1" y="393.860" width="40.8" height="6.288" fill="#79B7D5"/><rect x="1044.1" y="387.612" width="40.8" height="6.288" fill="#77B6D4"/><rect x="1044.1" y="381.364" width="40.8" height="6.288" fill="#75B5D3"/><rect x="1044.1" y="375.116" width="40.8" height="6.288" fill="#73B4D3"/><rect x="1044.1" y="368.868" width="40.8" height="6.288" fill="#71B3D2"/><rect x="1044.1" y="362.620" width="40.8" height="6.288" fill="#6FB2D1"/><rect x="1044.1" y="356.372" width="40.8" height="6.288" fill="#6DB1D1"/><rect x="1044.1" y="350.124" width="40.8" height="6.288" fill="#6BB0D0"/><rect x="1044.1" y="343.876" width="40.8" height="6.288" fill="#69AFCF"/><rect x="1044.1" y="337.628" width="40.8" height="6.288" fill="#67AECF"/><rect x="1044.1" y="331.380" width="40.8" height="6.288" fill="#65ADCE"/><rect x="1044.1" y="325.132" width="40.8" height="6.288" fill="#63ACCE"/><rect x="1044.1" y="318.884" width="40.8" height="6.288" fill="#61ABCD"/><rect x="1044.1" y="312.636" width="40.8" height="6.288" fill="#60ABCD"/><rect x="1044.1" y="306.388" width="40.8" height="6.288" fill="#5EAACC"/><rect x="1044.1" y="300.140" width="40.8" height="6.288" fill="#5CA9CC"/><rect x="1044.1" y="293.892" width="40.8" height="6.288" fill="#5AA8CC"/><rect x="1044.1" y="287.644" width="40.8" height="6.288" fill="#59A7CB"/><rect x="1044.1" y="281.396" width="40.8" height="6.288" fill="#57A6CB"/><rect x="1044.1" y="275.148" width="40.8" height="6.288" fill="#55A5CA"/><rect x="1044.1" y="268.900" width="40.8" height="6.288" fill="#53A4CA"/><rect x="1044.1" y="262.652" width="40.8" height="6.288" fill="#52A3C9"/><rect x="1044.1" y="256.404" width="40.8" height="6.288" fill="#50A2C9"/><rect x="1044.1" y="250.156" width="40.8" height="6.288" fill="#4EA1C9"/><rect x="1044.1" y="243.908" width="40.8" height="6.288" fill="#4CA0C8"/><rect x="1044.1" y="237.660" width="40.8" height="6.288" fill="#4B9FC8"/><rect x="1044.1" y="231.412" width="40.8" height="6.288" fill="#499EC7"/><rect x="1044.1" y="225.164" width="40.8" height="6.288" fill="#489EC7"/><rect x="1044.1" y="218.916" width="40.8" height="6.288" fill="#479DC6"/><rect x="1044.1" y="212.668" width="40.8" height="6.288" fill="#459CC6"/><rect x="1044.1" y="206.420" width="40.8" height="6.288" fill="#449BC5"/><rect x="1044.1" y="200.172" width="40.8" height="6.288" fill="#429AC5"/><rect x="1044.1" y="193.924" width="40.8" height="6.288" fill="#4199C4"/><rect x="1044.1" y="187.676" width="40.8" height="6.288" fill="#3F98C4"/><rect x="1044.1" y="181.428" width="40.8" height="6.288" fill="#3E97C3"/><rect x="1044.1" y="175.180" width="40.8" height="6.288" fill="#3C96C3"/><rect x="1044.1" y="168.932" width="40.8" height="6.288" fill="#3B96C2"/><rect x="1044.1" y="162.684" width="40.8" height="6.288" fill="#3A95C2"/><rect x="1044.1" y="156.436" width="40.8" height="6.288" fill="#3894C1"/><rect x="1044.1" y="150.188" width="40.8" height="6.288" fill="#3793C1"/><rect x="1044.1" y="143.940" width="40.8" height="6.288" fill="#3592C0"/><rect x="1044.1" y="137.692" width="40.8" height="6.288" fill="#3491BF"/><rect x="1044.1" y="131.444" width="40.8" height="6.288" fill="#3290BF"/><rect x="1044.1" y="125.196" width="40.8" height="6.288" fill="#308FBE"/><rect x="1044.1" y="118.948" width="40.8" height="6.288" fill="#2E8FBD"/><rect x="1044.1" y="112.700" width="40.8" height="6.288" fill="#2D8EBD"/><rect x="1044.1" y="106.452" width="40.8" height="6.288" fill="#2B8DBC"/><rect x="1044.1" y="100.204" width="40.8" height="6.288" fill="#298CBB"/><rect x="1044.1" y="93.956" width="40.8" height="6.288" fill="#288BBB"/><rect x="1044.1" y="87.708" width="40.8" height="6.288" fill="#268ABA"/><rect x="1044.1" y="81.460" width="40.8" height="6.288" fill="#2489B9"/><rect x="1044.1" y="75.212" width="40.8" height="6.288" fill="#2388B8"/><rect x="1044.1" y="68.964" width="40.8" height="6.288" fill="#2188B8"/><rect x="1044.1" y="62.716" width="40.8" height="6.288" fill="#1F87B7"/><rect x="1044.1" y="56.468" width="40.8" height="6.288" fill="#1D86B6"/><rect x="1044.1" y="50.220" width="40.8" height="6.288" fill="#1C85B6"/><rect x="1044.1" y="43.972" width="40.8" height="6.288" fill="#1A84B5"/><rect x="1044.1" y="37.724" width="40.8" height="6.288" fill="#1983B4"/><rect x="1044.1" y="31.476" width="40.8" height="6.288" fill="#1882B4"/><rect x="1044.1" y="25.228" width="40.8" height="6.288" fill="#1781B3"/><rect x="1044.1" y="18.980" width="40.8" height="6.288" fill="#1680B2"/></g>
<rect x="1044.1" y="19.0" width="40.8" height="1.1" fill="#0777AD"/>
<text x="1102.20" y="58.00">3</text>
<text x="1102.20 1121.20 1130.20" y="158.00">2.5</text>
<text x="1102.20" y="258.00">2</text>
<text x="1102.20 1121.20 1130.20" y="357.00">1.5</text>
<text x="1102.20" y="457.00">1</text>
<text x="1102.20 1121.20 1130.20" y="556.00">0.5</text>
<text x="1102.20" y="656.00">0</text>
</svg></body></html>
